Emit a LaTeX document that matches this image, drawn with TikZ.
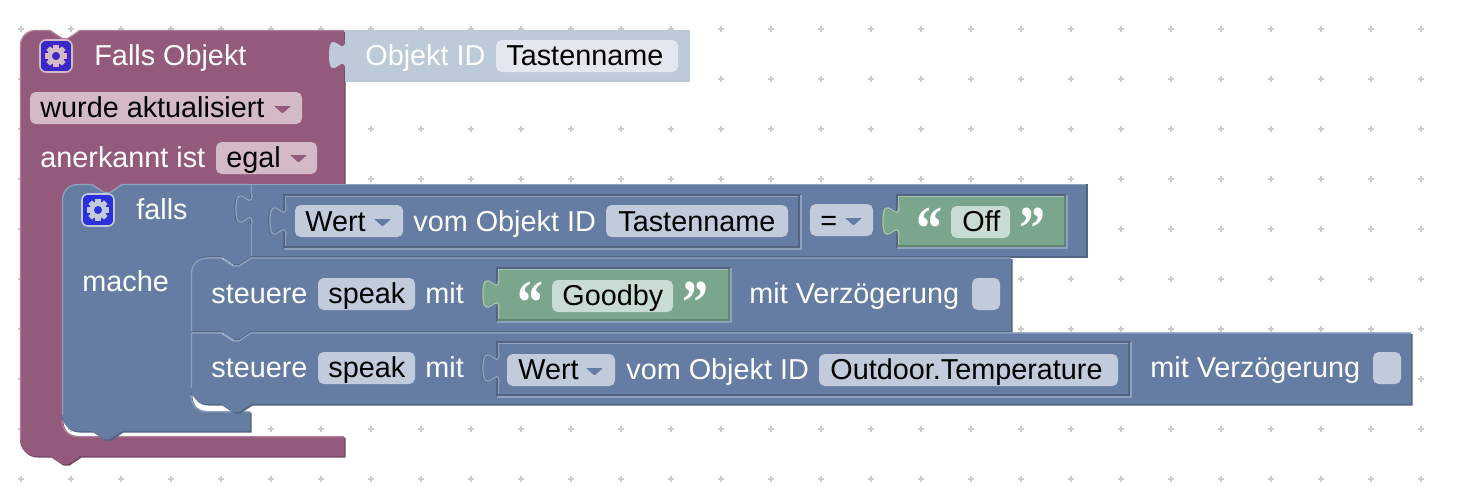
\documentclass[tikz,border=0pt]{standalone}
\usepackage{fontspec}
\usepackage{graphicx}
\setmainfont{Liberation Sans}
\newfontfamily\quotefont{Liberation Serif}

\definecolor{plummain}{HTML}{945A7C}
\definecolor{plumdark}{HTML}{764863}
\definecolor{plumlight}{HTML}{B07F9C}
\definecolor{plumfield}{HTML}{D4B9C9}
\definecolor{bluemain}{HTML}{657DA3}
\definecolor{bluedark}{HTML}{516482}
\definecolor{bluelight}{HTML}{8EA2C0}
\definecolor{bluefield}{HTML}{C1CBDB}
\definecolor{greenmain}{HTML}{79A68C}
\definecolor{greendark}{HTML}{618570}
\definecolor{greenlight}{HTML}{A5C4B2}
\definecolor{greenfield}{HTML}{C9DCD1}
\definecolor{palemain}{HTML}{BDCAD9}
\definecolor{palefield}{HTML}{E3E8F0}
\definecolor{gearplum}{HTML}{3B28C8}
\definecolor{gearblue}{HTML}{2A30DC}
\definecolor{gridmark}{HTML}{CCCCCC}

\tikzset{
  lbl/.style={anchor=base west,inner sep=0pt,text=white,font=\fontsize{14.4}{17}\selectfont},
  val/.style={lbl,text=black},
  qmark/.style={anchor=base west,inner sep=0pt,text=white,font=\quotefont\bfseries\fontsize{26}{26}\selectfont},
  field/.style={rounded corners=2.8pt},
  edgeline/.style={line width=.65pt},
  gearbox/.style={rounded corners=3pt,line width=.8pt}
}

% tab on the left side of a value block
\newcommand\puzzletab[3][]{\path[#1] (#2,#3) .. controls (#2,#3+20) and (#2-16,#3-16) .. (#2-16,#3+15)
  .. controls (#2-16,#3+46) and (#2,#3+10) .. (#2,#3+30);}
\newcommand\tabbedblock[5]{
  \fill[#5dark] (#1,#2) rectangle (#3+1.5,#4+1.5);
  \fill[#5main] (#1,#2) rectangle (#3,#4);
  \puzzletab[fill=#5main]{#1+1}{#2+10}
  \puzzletab[draw=#5dark,edgeline]{#1}{#2+10}
  \puzzletab[draw=#5light,edgeline]{#1+1}{#2+10}
  \draw[#5light,edgeline] (#1+.5,#2+10) -- (#1+.5,#2+.5) -- (#3,#2+.5);
  \draw[#5light,edgeline] (#1+.5,#2+40) -- (#1+.5,#4);
}
% value block sitting in the hole of a blue block
\newcommand\valuebox[5]{
  \draw[bluedark,edgeline] (#1,#4) -- (#1,#2) -- (#3,#2);
  \draw[bluelight,edgeline] (#3,#2) -- (#3,#4) -- (#1,#4);
  \tabbedblock{#1+1}{#2+1}{#3-3}{#4-3}{#5}
}
\newcommand\dropmark[3]{\fill[#3,rounded corners=.4pt] (#1,#2) -- (#1+17,#2) -- (#1+8.5,#2+7.5) -- cycle;}
\newcommand\quoteglyph[1]{\scalebox{1}[1.2]{#1}}
\newcommand\gearicon[4]{
  \draw[#3,fill=#4,gearbox] (#1-16,#2-16) rectangle (#1+16,#2+16);
  \foreach \a in {0,45,90,135}
    \fill[#3,rotate around={\a:(#1,#2)}] (#1-2.6,#2-11) rectangle (#1+2.6,#2+11);
  \fill[#3] (#1,#2) circle (8.5);
  \fill[#4] (#1,#2) circle (4);
}

\def\pathfalls{(36,30) -- (50,30) -- (62,38) -- (68,38) -- (80,30) -- (344,30) -- (344,184) -- (122,184) -- (110,192) -- (104,192) -- (92,184) -- (78,184)
  .. controls (69,184) and (62,191) .. (62,200) -- (62,420) .. controls (62,429) and (69,436) .. (78,436) -- (344,436) -- (344,456) -- (80,456)
  -- (68,464) -- (62,464) -- (50,456) -- (36,456) .. controls (27,456) and (20,449) .. (20,440) -- (20,46) .. controls (20,37) and (27,30) .. (36,30) -- cycle}
\def\pathif{(78,184) -- (92,184) -- (104,192) -- (110,192) -- (122,184) -- (252,184) -- (252,256) -- (251,256) -- (239,264) -- (233,264) -- (221,256) -- (207,256) .. controls (198,256) and (191,265) .. (191,274)
  -- (191,395) .. controls (191,404) and (198,411) .. (207,411) -- (250,411) -- (250,431) -- (122,431) -- (110,439) -- (104,439) -- (92,431) -- (78,431)
  .. controls (69,431) and (62,424) .. (62,415) -- (62,200) .. controls (62,191) and (69,184) .. (78,184) -- cycle}
\def\pathone{(207,257.5) -- (221,257.5) -- (233,265.5) -- (239,265.5) -- (251,257.5) -- (1011,257.5) -- (1011,331) -- (251,331) -- (239,339) -- (233,339) -- (221,331)
  -- (191,331) -- (191,273.5) .. controls (191,264.5) and (198,257.5) .. (207,257.5) -- cycle}
\def\pathtwo{(191,332.5) -- (221,332.5) -- (233,340.5) -- (239,340.5) -- (251,332.5) -- (1411,332.5) -- (1411,404) -- (251,404) -- (239,412) -- (233,412) -- (221,404)
  -- (207,404) .. controls (198,404) and (191,397) .. (191,388) -- cycle}

\begin{document}
\begin{tikzpicture}[x=.5pt,y=-.5pt]
\useasboundingbox (0,0) rectangle (1462,484);
\fill[white] (0,0) rectangle (1462,484);

\foreach \x in {21,71,...,1421}
  \foreach \y in {29,79,...,479}
  {
    \draw[gridmark,line width=.9pt] (\x-3,\y) -- (\x+3,\y) (\x,\y-3) -- (\x,\y+3);
  }

% outer trigger block
\fill[plumdark,shift={(1.5,1.5)}] \pathfalls;
\fill[plummain] \pathfalls;
\draw[plumlight,edgeline] (20.5,440) -- (20.5,46) .. controls (20.5,37) and (27,30.5) .. (36,30.5) -- (50,30.5) -- (62,38.5) -- (68,38.5) -- (80,30.5) -- (344,30.5);
\draw[plumlight,edgeline] (62,420) .. controls (62,430) and (69,436.7) .. (78,436.7) -- (344,436.7);

\fill[palemain] (345,30) rectangle (690,82);
\puzzletab[fill=palemain]{345}{40}

\gearicon{56}{56}{plumfield}{gearplum}
\node[lbl] (txtfalls) at (94,65) {Falls Objekt};
\node[lbl] (txtobject) at (365,65) {Objekt ID};
\fill[palefield,field] (496,40) rectangle (678,72);
\node[val] (txtname) at (506,65) {Tastenname};

\fill[plumfield,field] (30,92) rectangle (302,124);
\node[val] (txtupdated) at (40,117) {wurde aktualisiert};
\dropmark{274}{106}{plummain}
\node[lbl] (txtacked) at (40,167) {anerkannt ist};
\fill[plumfield,field] (216,142) rectangle (317,174);
\node[val] (txtany) at (226,167) {egal};
\dropmark{290}{155}{plummain}

% if block
\fill[bluedark,shift={(1.5,1.5)}] \pathif;
\fill[bluemain] \pathif;
\draw[bluelight,edgeline] (62.5,415) -- (62.5,200) .. controls (62.5,191) and (69,184.5) .. (78,184.5) -- (92,184.5) -- (104,192.5) -- (110,192.5) -- (122,184.5) -- (251,184.5);
\draw[bluelight,edgeline] (191,395) .. controls (191,405) and (198,411.7) .. (207,411.7) -- (250,411.7);
\gearicon{98}{210}{bluefield}{gearblue}
\node[lbl] (txtif) at (136,219) {falls};
\node[lbl] (txtdo) at (82,291) {mache};

\tabbedblock{251}{184}{1086}{256}{blue}

\valuebox{284}{195}{801}{249}{blue}
\fill[bluefield,field] (295,205) rectangle (403,237);
\node[val] (txtvalue) at (305,231) {Wert};
\dropmark{374}{219}{bluemain}
\node[lbl] (txtfrom) at (413,231) {vom Objekt ID};
\fill[bluefield,field] (606,205) rectangle (788,237);
\node[val] (txtkey) at (618,231) {Tastenname};

\fill[bluefield,field] (810,204) rectangle (873,236);
\node[val] (txtequal) at (820,230) {=};
\dropmark{845}{218}{bluemain}

\valuebox{897}{195}{1067}{248}{green}
\node[qmark] (quoteoffl) at (916,249) {\quoteglyph{“}};
\fill[greenfield,field] (951,206) rectangle (1010,238);
\node[val] (txtoff) at (962,231) {Off};
\node[qmark] (quoteoffr) at (1019,249) {\quoteglyph{”}};

% first speak block
\fill[bluedark,shift={(1.5,1.5)}] \pathone;
\fill[bluemain] \pathone;
\draw[bluelight,edgeline] (191.5,331) -- (191.5,273.5) .. controls (191.5,265) and (198,258) .. (207,258) -- (221,258) -- (233,266) -- (239,266) -- (251,258) -- (1011,258);
\node[lbl] (txtsayone) at (211,303) {steuere};
\fill[bluefield,field] (318,278) rectangle (415,310);
\node[val] (txtspeakone) at (328,303) {speak};
\node[lbl] (txtwithone) at (425,303) {mit};

\valuebox{497}{268}{731}{322}{green}
\node[qmark] (quotegoodl) at (517,323) {\quoteglyph{“}};
\fill[greenfield,field] (552,280) rectangle (673,312);
\node[val] (txtgoodby) at (562,305) {Goodby};
\node[qmark] (quotegoodr) at (682,323) {\quoteglyph{”}};
\node[lbl] (txtdelayone) at (749,303) {mit Verzögerung};
\fill[bluefield,field] (972,278) rectangle (1000,310);

% second speak block
\fill[bluedark,shift={(1.5,1.5)}] \pathtwo;
\fill[bluemain] \pathtwo;
\draw[bluelight,edgeline] (191.5,388) -- (191.5,333) -- (221,333) -- (233,341) -- (239,341) -- (251,333) -- (1411,333);
\node[lbl] (txtsaytwo) at (211,377) {steuere};
\fill[bluefield,field] (318,352) rectangle (415,384);
\node[val] (txtspeaktwo) at (328,377) {speak};
\node[lbl] (txtwithtwo) at (425,377) {mit};

\valuebox{497}{342}{1131}{397}{blue}
\fill[bluefield,field] (507,354) rectangle (615,386);
\node[val] (txtvaluetwo) at (518,379) {Wert};
\dropmark{586}{368}{bluemain}
\node[lbl] (txtfromtwo) at (626,379) {vom Objekt ID};
\fill[bluefield,field] (819,354) rectangle (1118,386);
\node[val] (txttemp) at (830,379) {Outdoor.Temperature};
\node[lbl] (txtdelaytwo) at (1150,377) {mit Verzögerung};
\fill[bluefield,field] (1373,352) rectangle (1401,384);

\end{tikzpicture}
\end{document}
